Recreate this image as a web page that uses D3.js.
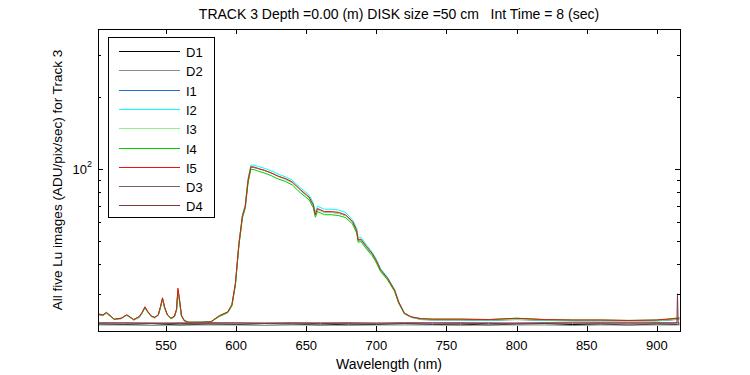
<!DOCTYPE html>
<html>
<head>
<meta charset="utf-8">
<script src="https://cdn.jsdelivr.net/npm/d3@7"></script>
<style>
  body { margin: 0; background: #fff; }
  text { font-family: "Liberation Sans", Arial, sans-serif; font-size: 13px; fill: #000; }
</style>
</head>
<body>
<div id="chart"></div>
<script>
// wavelength grid (nm) for the five Lu images
const wave = [502, 505, 507.5, 510, 513, 518, 522,
    527, 531, 533, 535, 537, 539.5, 542, 544.5, 546, 547.5, 549, 551, 553.5, 556, 557.5, 558.5, 559.5, 561, 563, 566,
    575, 582, 588, 594, 597, 599.5, 602, 604.5, 606.5, 608.5, 610.5, 613, 616, 620, 625, 630, 635, 640, 646,
    652, 655, 656.5, 658, 663, 668, 673, 678, 683, 686, 687, 689, 693, 697, 700, 703, 708, 713, 716, 720,
    725, 732, 740, 760, 780, 800, 820, 840, 860, 880, 900, 910, 916];

const I1 = [24.6, 24.4, 25.0, 24.3, 23.5, 23.7, 24.5,
    23.4, 24.0, 25.0, 26.3, 25.2, 24.2, 23.9, 24.5, 26.3, 28.6, 26.2, 24.5, 23.7, 24.1, 25.7, 30.8, 28.4, 24.3, 23.2, 22.9,
    22.9, 23.0, 24.3, 25.2, 27.0, 33.0, 48.5, 63.5, 70.0, 89.5, 102.0, 101.5, 100.5, 99.0, 96.5, 93.5, 91.0, 88.0, 81.5,
    76.0, 70.5, 64.5, 68.0, 66.0, 66.0, 65.5, 64.0, 60.0, 55.0, 50.5, 50.5, 47.0, 44.0, 41.2, 37.8, 34.8, 31.0, 27.5, 24.8,
    24.0, 23.5, 23.4, 23.4, 23.3, 23.5, 23.3, 23.2, 23.2, 23.2, 23.2, 23.4, 23.6];
const I2 = [24.7, 24.5, 25.1, 24.4, 23.5, 23.8, 24.5,
    23.5, 24.1, 25.1, 26.5, 25.3, 24.3, 24.0, 24.5, 26.5, 28.8, 26.4, 24.6, 23.8, 24.2, 25.8, 31.0, 28.6, 24.4, 23.3, 22.9,
    22.9, 23.0, 24.4, 25.3, 27.1, 33.3, 49.0, 64.5, 71.0, 91.5, 104.0, 104.0, 102.5, 101.0, 98.5, 95.5, 93.0, 90.0, 83.5,
    78.0, 72.5, 66.0, 70.0, 68.0, 68.0, 67.5, 66.0, 61.5, 56.5, 51.5, 52.0, 48.2, 45.0, 42.0, 38.4, 35.3, 31.4, 27.9, 25.0,
    24.1, 23.6, 23.5, 23.5, 23.4, 23.6, 23.4, 23.3, 23.3, 23.3, 23.3, 23.5, 23.7];
const I3 = [24.6, 24.5, 25.0, 24.4, 23.5, 23.7, 24.5,
    23.4, 24.1, 25.1, 26.4, 25.2, 24.2, 23.9, 24.5, 26.4, 28.7, 26.3, 24.5, 23.7, 24.2, 25.8, 31.0, 28.5, 24.3, 23.2, 22.9,
    22.9, 23.0, 24.3, 25.2, 27.0, 33.2, 48.8, 63.8, 70.0, 90.0, 102.5, 102.0, 100.5, 99.0, 96.5, 93.5, 91.0, 88.0, 81.5,
    76.0, 70.5, 64.5, 68.0, 66.0, 66.0, 65.5, 64.0, 60.0, 55.0, 50.5, 50.5, 47.0, 44.0, 41.2, 37.8, 34.8, 31.0, 27.5, 24.8,
    24.0, 23.6, 23.5, 23.5, 23.4, 23.6, 23.4, 23.3, 23.3, 23.2, 23.3, 23.5, 23.7];
const I4 = [24.7, 24.5, 25.1, 24.4, 23.6, 23.8, 24.6,
    23.5, 24.2, 25.2, 26.4, 25.3, 24.3, 24.0, 24.6, 26.4, 28.7, 26.4, 24.6, 23.8, 24.2, 25.9, 31.2, 28.7, 24.4, 23.3, 22.9,
    22.9, 23.0, 24.2, 25.1, 26.8, 32.8, 48.0, 62.5, 68.5, 87.5, 100.0, 99.5, 98.0, 96.5, 94.0, 91.0, 89.0, 86.0, 79.5,
    74.5, 69.0, 63.0, 66.5, 64.5, 64.5, 64.0, 62.8, 59.0, 54.0, 49.5, 49.8, 46.3, 43.5, 40.6, 37.3, 34.4, 30.8, 27.4, 24.9,
    24.1, 23.7, 23.6, 23.6, 23.5, 23.8, 23.5, 23.4, 23.4, 23.3, 23.4, 23.6, 23.8];
const I5 = [24.8, 24.6, 25.2, 24.5, 23.6, 23.8, 24.6,
    23.5, 24.2, 25.2, 26.6, 25.4, 24.3, 24.0, 24.6, 26.6, 29.0, 26.5, 24.6, 23.8, 24.3, 26.0, 31.8, 29.0, 24.5, 23.3, 22.9,
    22.9, 23.0, 24.4, 25.3, 27.2, 33.5, 49.0, 64.0, 70.0, 90.0, 102.5, 102.0, 100.5, 99.0, 96.5, 93.5, 91.5, 88.5, 82.0,
    76.5, 71.0, 64.5, 68.5, 66.5, 66.5, 66.0, 64.5, 60.5, 55.5, 50.5, 51.0, 47.5, 44.5, 41.5, 38.0, 35.0, 31.2, 27.8, 25.0,
    24.1, 23.7, 23.6, 23.6, 23.5, 23.8, 23.5, 23.4, 23.4, 23.3, 23.4, 23.7, 23.9];

// dark frames
const darkWave = [502, 520, 540, 560, 580, 600, 620, 640, 660, 680, 700, 720, 740, 760, 780, 800, 820, 840, 860, 880,
    900, 914.3, 914.7, 915.2, 916];
const D1 = [22.5, 22.4, 22.6, 22.3, 22.5, 22.4, 22.6, 22.5, 22.3, 22.5, 22.4, 22.6, 22.4, 22.5, 22.3, 22.5, 22.6, 22.4, 22.5, 22.3,
    22.5, 22.4, 22.4, 22.5, 22.4];
const D2 = [22.3, 22.3, 22.2, 22.3, 22.3, 22.3, 22.2, 22.3, 22.3, 22.2, 22.3, 22.3, 22.3, 22.2, 22.3, 22.3, 22.3, 22.2, 22.3, 22.3,
    22.3, 22.3, 22.3, 22.3, 22.3];
const D3 = [22.8, 22.8, 22.7, 22.8, 22.8, 22.8, 22.7, 22.8, 22.8, 22.8, 22.7, 22.8, 22.8, 22.8, 22.8, 22.7, 22.8, 22.8, 22.8, 22.8,
    22.8, 22.8, 22.8, 22.8, 22.8];
const D4 = [22.7, 22.7, 22.7, 22.6, 22.7, 22.7, 22.7, 22.7, 22.6, 22.7, 22.7, 22.7, 22.7, 22.7, 22.6, 22.7, 22.7, 22.7, 22.7, 22.7,
    22.7, 22.7, 30.1, 22.6, 22.6];

const names = ["D1", "D2", "I1", "I2", "I3", "I4", "I5", "D3", "D4"];
const colors = ["#000000", "#8c8c8c", "#1f6fd0", "#00ffff", "#90ee90", "#00cc00", "#ee1111", "#806060", "#803838"];
const xTicks = [550, 600, 650, 700, 750, 800, 850, 900];
const yMinor = [30, 40, 50, 60, 70, 80, 90, 200, 300];

const series = [
    {name: "D1", x: darkWave, y: D1}, {name: "D2", x: darkWave, y: D2},
    {name: "I1", x: wave, y: I1}, {name: "I2", x: wave, y: I2}, {name: "I3", x: wave, y: I3},
    {name: "I4", x: wave, y: I4}, {name: "I5", x: wave, y: I5},
    {name: "D3", x: darkWave, y: D3}, {name: "D4", x: darkWave, y: D4}
];

const W = 750, H = 375;
const margin = {top: 29, right: 70, bottom: 44, left: 98};
const pw = W - margin.left - margin.right;
const ph = H - margin.top - margin.bottom;

const svg = d3.select("#chart").append("svg")
    .attr("width", W)
    .attr("height", H);
const g = svg.append("g")
    .attr("transform", `translate(${margin.left}, ${margin.top})`);

const x = d3.scaleLinear().domain([501.5, 916.5]).range([0, pw]);
const y = d3.scaleLog().domain([21.05, 386]).range([ph, 0]);

g.append("clipPath").attr("id", "clip")
    .append("rect").attr("width", pw).attr("height", ph);

const line = d3.line()
    .x(d => x(d[0]))
    .y(d => y(d[1]));

g.append("g").attr("clip-path", "url(#clip)")
    .selectAll("path")
    .data(series)
    .enter().append("path")
        .attr("d", s => line(s.x.map((w, i) => [w, s.y[i]])))
        .attr("fill", "none")
        .attr("stroke", s => colors[names.indexOf(s.name)])
        .attr("stroke-width", 1);

// axes: ticks inside on all four sides (matlab style)
const tl = 5, tm = 3;
const ticks = g.append("g").attr("stroke", "#000").attr("stroke-width", 1);
xTicks.forEach(t => {
    const px = Math.round(x(t)) + 0.5;
    ticks.append("line").attr("x1", px).attr("x2", px).attr("y1", ph).attr("y2", ph - tl);
    ticks.append("line").attr("x1", px).attr("x2", px).attr("y1", 0).attr("y2", tl);
});
yMinor.concat([100]).forEach(t => {
    const py = Math.round(y(t)) + 0.5;
    const len = t === 100 ? tl : tm;
    ticks.append("line").attr("x1", 0).attr("x2", len).attr("y1", py).attr("y2", py);
    ticks.append("line").attr("x1", pw).attr("x2", pw - len).attr("y1", py).attr("y2", py);
});

g.append("rect")
    .attr("x", 0.5).attr("y", 0.5)
    .attr("width", pw).attr("height", ph)
    .attr("fill", "none").attr("stroke", "#000");

g.selectAll(".xlab")
    .data(xTicks)
    .enter().append("text")
        .attr("class", "xlab")
        .attr("x", d => x(d))
        .attr("y", ph + 19)
        .attr("text-anchor", "middle")
        .text(d => d);

// 10^2 label
const lab = g.append("text")
    .attr("x", -6)
    .attr("y", y(100) + 5)
    .attr("text-anchor", "end");
lab.append("tspan").text("10");
lab.append("tspan").attr("dy", -7).style("font-size", "9px").text("2");

svg.append("text")
    .attr("x", 399)
    .attr("y", 19)
    .attr("text-anchor", "middle")
    .style("white-space", "pre")
    .style("font-size", "14px")
    .text("TRACK 3 Depth =0.00 (m) DISK size =50 cm   Int Time = 8 (sec)");

svg.append("text")
    .attr("x", margin.left + pw / 2)
    .attr("y", 369)
    .attr("text-anchor", "middle")
    .style("font-size", "14px")
    .text("Wavelength (nm)");

svg.append("text")
    .attr("transform", `translate(62, ${margin.top + ph / 2}) rotate(-90)`)
    .attr("text-anchor", "middle")
    .style("font-size", "13.5px")
    .text("All five Lu images (ADU/pix/sec) for Track 3");

// legend
const leg = g.append("g").attr("transform", "translate(10, 8)");
leg.append("rect")
    .attr("x", 0.5).attr("y", 0.5)
    .attr("width", 106).attr("height", 180)
    .attr("fill", "#fff").attr("stroke", "#000");
const item = leg.selectAll(".item")
    .data(names)
    .enter().append("g")
        .attr("class", "item")
        .attr("transform", (d, i) => `translate(0, ${Math.round(14 + i * 19.3) + 0.5})`);
item.append("line")
    .attr("x1", 11).attr("x2", 72)
    .attr("stroke", d => colors[names.indexOf(d)]);
item.append("text")
    .attr("x", 78)
    .attr("y", 5)
    .text(d => d);
</script>
</body>
</html>
